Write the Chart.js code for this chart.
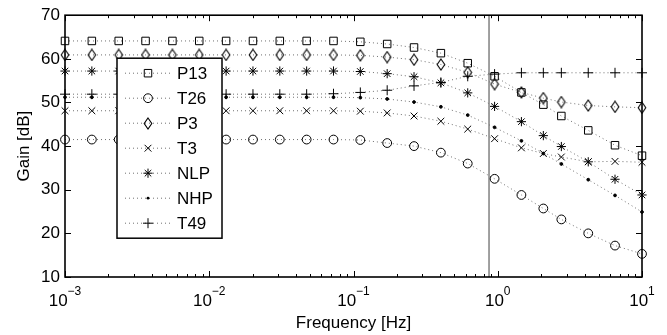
<!DOCTYPE html>
<html>
<head>
<meta charset="utf-8">
<script src="https://cdn.jsdelivr.net/npm/chart.js@4.4.0/dist/chart.umd.min.js"></script>
<style>
  html, body { margin: 0; padding: 0; background: #fff; }
  #wrap { width: 667px; height: 335px; }
</style>
</head>
<body>
<div id="wrap"><canvas id="gainChart" width="667" height="335"></canvas></div>
<script>
// measured frequencies (Hz), shared by all series
const freqs = [0.001, 0.001535, 0.002357, 0.003618, 0.005554, 0.008524, 0.01309, 0.02009,
               0.03084, 0.04734, 0.07266, 0.1115, 0.1712, 0.2628, 0.4034, 0.6193, 0.9508,
               1.459, 2.07, 2.76, 4.24, 6.5, 10];

const seriesNames = ['P13', 'T26', 'P3', 'T3', 'NLP', 'NHP', 'T49'];

const gainP13 = [64.1, 64.1, 64.1, 64.1, 64.1, 64.1, 64.1, 64.1, 64.1, 64.1, 64.1, 63.9,
                 63.4, 62.6, 61.3, 59.0, 56.0, 52.3, 49.5, 46.9, 43.6, 40.2, 37.8];
const gainT26 = [41.5, 41.5, 41.5, 41.5, 41.5, 41.5, 41.5, 41.5, 41.5, 41.5, 41.5, 41.4,
                 40.7, 40.0, 38.5, 36.0, 32.5, 28.8, 25.7, 23.2, 20.0, 17.2, 15.3];
const gainP3  = [60.9, 60.9, 60.9, 60.9, 60.9, 60.9, 60.9, 60.9, 60.9, 60.9, 60.9, 60.8,
                 60.4, 59.8, 58.7, 56.9, 54.2, 52.3, 51.0, 50.1, 49.3, 49.0, 48.8];
const gainT3  = [48.1, 48.1, 48.1, 48.1, 48.1, 48.1, 48.1, 48.1, 48.1, 48.1, 48.1, 48.0,
                 47.6, 46.9, 45.7, 43.9, 41.7, 39.6, 38.3, 37.5, 36.4, 36.5, 36.3];
const gainNLP = [57.2, 57.2, 57.2, 57.2, 57.2, 57.2, 57.2, 57.2, 57.2, 57.2, 57.2, 57.1,
                 56.6, 55.9, 54.5, 52.2, 49.1, 45.6, 42.4, 39.9, 36.4, 32.4, 28.8];
const gainNHP = [51.2, 51.2, 51.2, 51.2, 51.2, 51.2, 51.2, 51.2, 51.2, 51.2, 51.2, 51.1,
                 50.8, 50.1, 49.0, 47.1, 44.3, 41.2, 38.3, 35.9, 32.3, 28.7, 24.9];
const gainT49 = [51.9, 51.9, 51.9, 51.9, 51.9, 51.9, 51.9, 51.9, 51.9, 51.9, 52.0, 52.3,
                 52.8, 53.8, 54.6, 56.0, 56.5, 56.8, 56.8, 56.8, 56.8, 56.8, 56.8];

const yTicks = [10, 20, 30, 40, 50, 60, 70];
const xDecades = [0.001, 0.01, 0.1, 1, 10];
const xExponents = ['\u22123', '\u22122', '\u22121', '0', '1'];
const cutoffHz = 0.87;
const xTitle = 'Frequency [Hz]';
const yTitle = 'Gain [dB]';

const FONT = '"Liberation Sans", Arial, Helvetica, sans-serif';
const LINE_COLOR = '#707070';

function makeDiamond() {
    const c = document.createElement('canvas');
    c.width = 10; c.height = 13;
    const g = c.getContext('2d');
    g.strokeStyle = '#000'; g.lineWidth = 1.1;
    g.beginPath();
    g.moveTo(5, 1); g.lineTo(8.8, 6.5); g.lineTo(5, 12); g.lineTo(1.2, 6.5);
    g.closePath();
    g.stroke();
    return c;
}

const markers = [
    { style: 'rect',     r: 5.3 },
    { style: 'circle',   r: 4.4 },
    { style: makeDiamond(), r: 5 },
    { style: 'crossRot', r: 4.8 },
    { style: 'star',     r: 4.6 },
    { style: 'circle',   r: 1.4, fill: true },
    { style: 'cross',    r: 5 }
];

const gains = [gainP13, gainT26, gainP3, gainT3, gainNLP, gainNHP, gainT49];

// legend markers, same shapes as Chart.js draws them
function drawMarker(ctx, m, x, y) {
    ctx.save();
    ctx.strokeStyle = '#000'; ctx.fillStyle = '#000'; ctx.lineWidth = 1;
    const r = m.r, d = r * Math.SQRT1_2;
    ctx.beginPath();
    if (typeof m.style !== 'string') {
        ctx.drawImage(m.style, Math.round(x - m.style.width / 2), Math.round(y - m.style.height / 2));
    } else if (m.style === 'rect') {
        ctx.rect(x - d, y - d, 2 * d, 2 * d); ctx.stroke();
    } else if (m.style === 'circle') {
        ctx.arc(x, y, r, 0, Math.PI * 2);
        m.fill ? ctx.fill() : ctx.stroke();
    } else {
        if (m.style === 'cross' || m.style === 'star') {
            ctx.moveTo(x - r, y); ctx.lineTo(x + r, y);
            ctx.moveTo(x, y - r); ctx.lineTo(x, y + r);
        }
        if (m.style === 'crossRot' || m.style === 'star') {
            ctx.moveTo(x - d, y - d); ctx.lineTo(x + d, y + d);
            ctx.moveTo(x + d, y - d); ctx.lineTo(x - d, y + d);
        }
        ctx.stroke();
    }
    ctx.restore();
}

const matlabAxes = {
    id: 'matlabAxes',
    beforeDatasetsDraw(chart) {
        const { ctx, chartArea: a, scales: { x } } = chart;
        const px = x.getPixelForValue(cutoffHz);
        ctx.save();
        ctx.strokeStyle = '#808080'; ctx.lineWidth = 1.5;
        ctx.beginPath(); ctx.moveTo(px, a.top); ctx.lineTo(px, a.bottom); ctx.stroke();
        ctx.restore();
    },
    afterDatasetsDraw(chart) {
        const { ctx, chartArea: a, scales: { x, y } } = chart;
        ctx.save();
        ctx.strokeStyle = '#000';

        // inner ticks
        ctx.lineWidth = 1;
        ctx.beginPath();
        yTicks.forEach(v => {
            const py = Math.round(y.getPixelForValue(v)) + 0.5;
            ctx.moveTo(a.left, py); ctx.lineTo(a.left + 6, py);
            ctx.moveTo(a.right, py); ctx.lineTo(a.right - 6, py);
        });
        xDecades.forEach((dec, i) => {
            const px = Math.round(x.getPixelForValue(dec)) + 0.5;
            ctx.moveTo(px, a.bottom); ctx.lineTo(px, a.bottom - 6);
            ctx.moveTo(px, a.top); ctx.lineTo(px, a.top + 6);
            if (i === xDecades.length - 1) return;
            for (let k = 2; k <= 9; k++) {
                const pm = Math.round(x.getPixelForValue(dec * k)) + 0.5;
                ctx.moveTo(pm, a.bottom); ctx.lineTo(pm, a.bottom - 3);
                ctx.moveTo(pm, a.top); ctx.lineTo(pm, a.top + 3);
            }
        });
        ctx.stroke();

        // box
        ctx.lineWidth = 1.6;
        ctx.strokeRect(a.left, a.top, a.right - a.left, a.bottom - a.top);

        // x tick labels 10^n
        ctx.fillStyle = '#000';
        ctx.textBaseline = 'alphabetic';
        ctx.textAlign = 'left';
        xDecades.forEach((dec, i) => {
            const px = x.getPixelForValue(dec);
            ctx.font = '17px ' + FONT;
            const wBase = ctx.measureText('10').width;
            ctx.font = '12px ' + FONT;
            const wExp = ctx.measureText(xExponents[i]).width;
            const start = px - (wBase + wExp) / 2;
            ctx.font = '17px ' + FONT;
            ctx.fillText('10', start, a.bottom + 29);
            ctx.font = '12px ' + FONT;
            ctx.fillText(xExponents[i], start + wBase, a.bottom + 18);
        });

        // axis titles
        ctx.font = '17px ' + FONT;
        ctx.textAlign = 'center';
        ctx.textBaseline = 'middle';
        ctx.fillText(xTitle, (a.left + a.right) / 2, a.bottom + 46);
        ctx.save();
        ctx.translate(24.5, (a.top + a.bottom) / 2);
        ctx.rotate(-Math.PI / 2);
        ctx.fillText(yTitle, 0, 0);
        ctx.restore();

        // legend box
        const lx = a.left + 52, ly = a.top + 43, lw = 105, lh = 180;
        ctx.fillStyle = '#fff';
        ctx.fillRect(lx, ly, lw, lh);
        ctx.lineWidth = 1.5;
        ctx.strokeRect(lx, ly, lw, lh);
        seriesNames.forEach((name, i) => {
            const ry = ly + 15 + i * 25;
            ctx.save();
            ctx.strokeStyle = LINE_COLOR; ctx.lineWidth = 1; ctx.setLineDash([1, 3]);
            ctx.beginPath(); ctx.moveTo(lx + 8, ry); ctx.lineTo(lx + 53, ry); ctx.stroke();
            ctx.restore();
            drawMarker(ctx, markers[i], lx + 31, ry);
            ctx.fillStyle = '#000';
            ctx.textAlign = 'left';
            ctx.fillText(name, lx + 60, ry + 1);
        });
        ctx.restore();
    }
};

new Chart(document.getElementById('gainChart').getContext('2d'), {
    type: 'line',
    data: {
        datasets: seriesNames.map((name, i) => ({
            label: name,
            data: freqs.map((f, j) => ({ x: f, y: gains[i][j] })),
            borderColor: LINE_COLOR,
            borderWidth: 1,
            borderDash: [1, 3],
            tension: 0,
            fill: false,
            clip: false,
            pointStyle: markers[i].style,
            pointRadius: markers[i].r,
            pointBorderColor: '#000',
            pointBorderWidth: 1,
            pointBackgroundColor: markers[i].fill ? '#000' : 'rgba(0,0,0,0)'
        }))
    },
    options: {
        responsive: false,
        animation: false,
        layout: { padding: { top: 9, right: 25, left: 0, bottom: 0 } },
        plugins: { legend: { display: false }, tooltip: { enabled: false } },
        scales: {
            x: {
                type: 'logarithmic', min: 0.001, max: 10,
                ticks: { display: false },
                grid: { display: false, drawTicks: false },
                border: { display: false },
                afterFit: s => { s.height = 58; }
            },
            y: {
                type: 'linear', min: 10, max: 70,
                afterBuildTicks: s => { s.ticks = yTicks.map(v => ({ value: v })); },
                ticks: { padding: 5, color: '#000', font: { size: 17, family: FONT } },
                grid: { display: false, drawTicks: false },
                border: { display: false },
                afterFit: s => { s.width = 65; }
            }
        }
    },
    plugins: [matlabAxes]
});
</script>
</body>
</html>
